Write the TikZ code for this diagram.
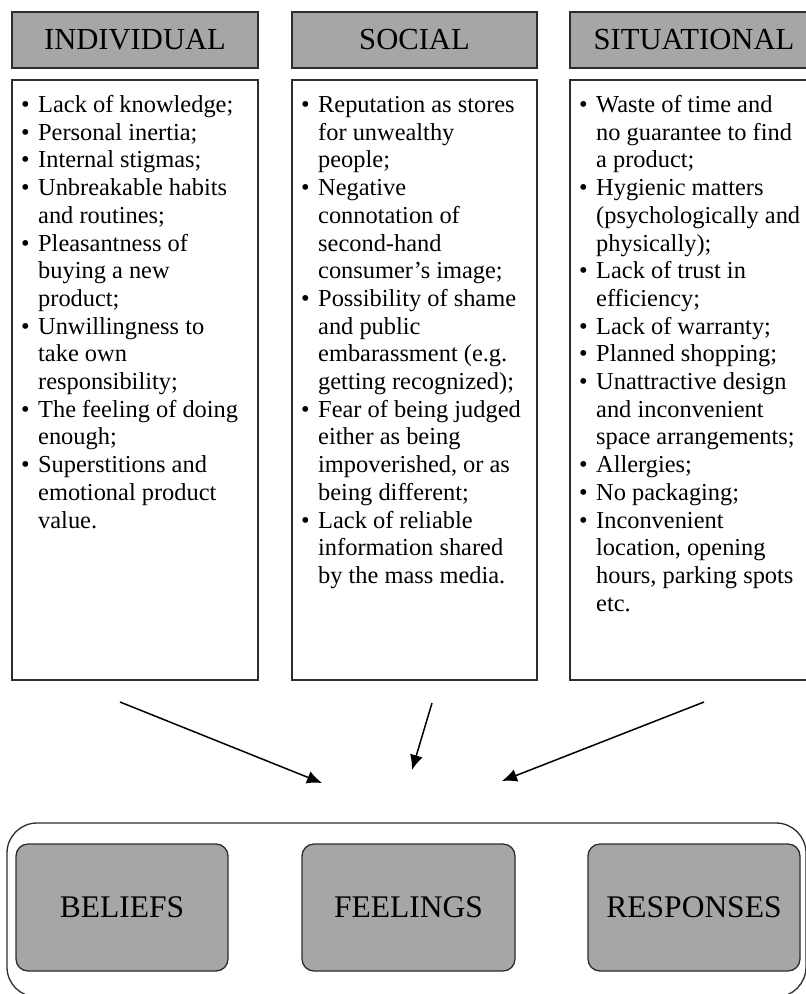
\documentclass[tikz,border=0pt]{standalone}
\usepackage{fontspec}
\setmainfont{Liberation Serif}
\usetikzlibrary{arrows.meta}
\definecolor{boxgray}{RGB}{166,166,166}
\definecolor{edgecol}{RGB}{45,45,45}

% one bulleted entry with hanging indent; continuation lines via \newline
\newcommand\bul{\par\hangindent=17pt\hangafter=1\noindent\makebox[17pt][l]{\textbullet}}
\newcommand\colbody[1]{\parbox[t]{300pt}{\fontsize{24.4}{27.7}\selectfont\parskip=0pt\relax #1}}

\tikzset{
  hdr/.style={draw=edgecol, line width=1.4pt, fill=boxgray, minimum height=56pt,
              inner sep=0pt, font=\fontsize{30.6}{36}\selectfont},
  bodybox/.style={draw=edgecol, line width=1.3pt, fill=white, minimum height=600pt, inner sep=0pt},
  coltext/.style={anchor=base west, inner sep=0pt},
  outcome/.style={draw=edgecol, line width=1.3pt, fill=boxgray, rounded corners=12pt,
                  minimum height=127pt, inner sep=0pt, font=\fontsize{31.5}{36}\selectfont},
  groupbox/.style={draw=edgecol, line width=1.3pt, rounded corners=30pt, inner sep=0pt},
  arr/.style={draw=black, line width=1.5pt, -{Latex[length=15pt,width=13pt]}}
}

\begin{document}
\begin{tikzpicture}[x=1pt,y=-1pt]
\useasboundingbox (0,0) rectangle (806,994);

% column headers
\node[hdr, minimum width=246pt] (hInd) at (135,40) {INDIVIDUAL};
\node[hdr, minimum width=245pt] (hSoc) at (414.5,40) {SOCIAL};
\node[hdr, minimum width=248pt] (hSit) at (694,40) {SITUATIONAL};

% column bodies
\node[bodybox, minimum width=246pt] (bInd) at (135,380) {};
\node[bodybox, minimum width=245pt] (bSoc) at (414.5,380) {};
\node[bodybox, minimum width=248pt] (bSit) at (694,380) {};

\node[coltext] (tInd) at (21,112.5) {\colbody{%
\bul Lack of knowledge;
\bul Personal inertia;
\bul Internal stigmas;
\bul Unbreakable habits\newline and routines;
\bul Pleasantness of\newline buying a new\newline product;
\bul Unwillingness to\newline take own\newline responsibility;
\bul The feeling of doing\newline enough;
\bul Superstitions and\newline emotional product\newline value.\par}};

\node[coltext] (tSoc) at (301,112.5) {\colbody{%
\bul Reputation as stores\newline for unwealthy\newline people;
\bul Negative\newline connotation of\newline second-hand\newline consumer’s image;
\bul Possibility of shame\newline and public\newline embarassment (e.g.\newline getting recognized);
\bul Fear of being judged\newline either as being\newline impoverished, or as\newline being different;
\bul Lack of reliable\newline information shared\newline by the mass media.\par}};

\node[coltext] (tSit) at (579,112.5) {\colbody{%
\bul Waste of time and\newline no guarantee to find\newline a product;
\bul Hygienic matters\newline (psychologically and\newline physically);
\bul Lack of trust in\newline efficiency;
\bul Lack of warranty;
\bul Planned shopping;
\bul Unattractive design\newline and inconvenient\newline space arrangements;
\bul Allergies;
\bul No packaging;
\bul Inconvenient\newline location, opening\newline hours, parking spots\newline etc.\par}};

% outcome group
\node[groupbox, minimum width=799pt, minimum height=174pt] (grp) at (406.5,910) {};
\node[outcome, minimum width=212pt] (oBel) at (122,907.5) {BELIEFS};
\node[outcome, minimum width=213pt] (oFee) at (408.5,907.5) {FEELINGS};
\node[outcome, minimum width=212pt] (oRes) at (694,907.5) {RESPONSES};

% influence arrows
\coordinate (s1) at (120,702);
\coordinate (e1) at (322,783);
\coordinate (s2) at (432,703);
\coordinate (e2) at (412,770);
\coordinate (s3) at (704,702);
\coordinate (e3) at (502,781);
\draw[arr] (s1) -- (e1);
\draw[arr] (s2) -- (e2);
\draw[arr] (s3) -- (e3);
\end{tikzpicture}
\end{document}
